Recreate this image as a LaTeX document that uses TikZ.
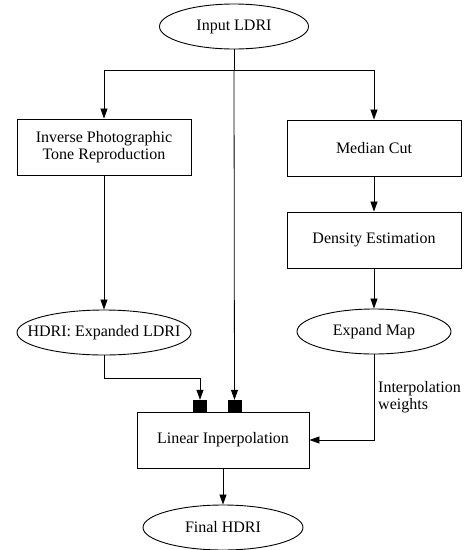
\documentclass[tikz,border=0pt]{standalone}
\usepackage{fontspec}
\setmainfont{Liberation Serif}
\usetikzlibrary{shapes.geometric,arrows.meta}
\begin{document}
\begin{tikzpicture}[x=1pt,y=-1pt,
  every node/.style={font=\fontsize{16}{17.5}\selectfont},
  oval/.style={draw,ellipse,line width=0.9pt,inner sep=0pt,minimum height=45pt},
  blk/.style={draw,rectangle,line width=0.9pt,inner sep=0pt,minimum height=56pt,align=center},
  sq/.style={fill=black,draw=none,minimum width=14pt,minimum height=12pt,inner sep=0pt},
  conn/.style={line width=0.8pt},
  arr/.style={conn,-{Triangle[length=10pt,width=7pt]}}]
\useasboundingbox (0,0) rectangle (466,550);
\node[oval,minimum width=149pt] (in) at (234,26.5) {\makebox[0pt]{Input LDRI}};
\node[blk,minimum width=174pt] (inv) at (104,147) {Inverse Photographic\\Tone Reproduction};
\node[blk,minimum width=174pt] (med) at (374,148) {Median Cut};
\node[blk,minimum width=174pt] (den) at (374,240) {Density Estimation};
\node[oval,minimum width=174pt] (hdr) at (104,332.5) {\makebox[0pt]{HDRI: Expanded LDRI}};
\node[oval,minimum width=154pt] (exp) at (374,331.5) {\makebox[0pt]{Expand Map}};
\node[sq] (s1) at (200,406) {};
\node[sq] (s2) at (234.5,406) {};
\node[blk,minimum width=172pt] (lin) at (223,440) {Linear Inperpolation};
\node[oval,minimum width=160pt] (fin) at (223,527.5) {\makebox[0pt]{Final HDRI}};
\node[align=left,anchor=west,inner sep=0pt] (lbl) at (378,397) {Interpolation\\weights};
\coordinate (split) at (234,70);
\coordinate (hbend) at (104,378);
\draw[conn] (in.south) -- (split);
\draw[arr] (split) -| (inv.north);
\draw[arr] (split) -| (med.north);
\draw[arr] (split) -- (s2.north);
\draw[arr] (inv) -- (hdr);
\draw[arr] (med) -- (den);
\draw[arr] (den) -- (exp);
\draw[arr] (hdr.south) -- (hbend) -| (s1.north);
\draw[arr] (exp.south) |- (lin.east);
\draw[arr] (lin) -- (fin);
\end{tikzpicture}
\end{document}
